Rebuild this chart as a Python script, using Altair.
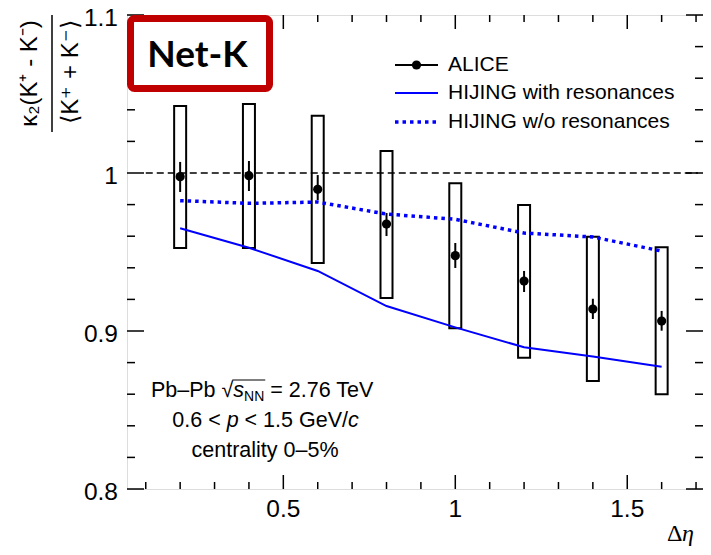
import altair as alt
import pandas as pd

# ---------------- data ----------------
deta = [0.2, 0.4, 0.6, 0.8, 1.0, 1.2, 1.4, 1.6]
alice = [0.9977, 0.9983, 0.9897, 0.9677, 0.9477, 0.9316, 0.9139, 0.9063]
stat_lo = [0.9880, 0.9886, 0.9829, 0.9601, 0.9399, 0.9247, 0.9076, 0.9002]
stat_hi = [1.0070, 1.0076, 0.9987, 0.9747, 0.9557, 0.9380, 0.9204, 0.9127]
sys_lo = [0.9525, 0.9525, 0.9430, 0.9209, 0.9017, 0.8831, 0.8684, 0.8600]
sys_hi = [1.0424, 1.0437, 1.0363, 1.0139, 0.9935, 0.9797, 0.9597, 0.9530]
hijing_res = [0.9650, 0.9527, 0.9380, 0.9158, 0.9023, 0.8897, 0.8838, 0.8774]
hijing_nores = [0.9825, 0.9808, 0.9816, 0.9740, 0.9707, 0.9620, 0.9595, 0.9506]

x_domain = [0.06, 1.7057]
y_domain = [0.8, 1.1]
x_major = [0.5, 1.0, 1.5]
x_major_labels = ["0.5", "1", "1.5"]
x_minor = [0.1, 0.2, 0.3, 0.4, 0.6, 0.7, 0.8, 0.9, 1.1, 1.2, 1.3, 1.4, 1.6, 1.7]
y_major = [0.8, 0.9, 1.0, 1.1]
y_major_labels = ["0.8", "0.9", "1", "1.1"]
y_minor = [0.82, 0.84, 0.86, 0.88, 0.92, 0.94, 0.96, 0.98, 1.02, 1.04, 1.06, 1.08]
ref_line = {"x": [0.1], "x2": [1.7057], "y": [1.0]}

legend_labels = ["ALICE", "HIJING with resonances", "HIJING w/o resonances"]
badge_text = "Net-K"
y_title_num = "κ₂(K⁺ - K⁻)"
y_title_den = "⟨K⁺ + K⁻⟩"

# ---------------- styling ----------------
W, H = 576, 474
BLUE = "#0000ff"
RED = "#c00000"
FONT = "Liberation Sans"

df = pd.DataFrame({
    "deta": deta, "alice": alice, "stat_lo": stat_lo, "stat_hi": stat_hi,
    "sys_lo": sys_lo, "sys_hi": sys_hi,
    "hres": hijing_res, "hnores": hijing_nores,
})
dummy = pd.DataFrame({"a": [0]})

xs = alt.Scale(domain=x_domain, nice=False, zero=False)
ys = alt.Scale(domain=y_domain, nice=False, zero=False)


def X(f):
    return alt.X(f, scale=xs, axis=None)


def Y(f):
    return alt.Y(f, scale=ys, axis=None)


layers = []

# systematic boxes
layers.append(alt.Chart(df).mark_bar(width=12, filled=False, stroke="black", strokeWidth=2).encode(
    x=X("deta:Q"), y=Y("sys_lo:Q"), y2="sys_hi:Q"))

# reference dashed line at 1
layers.append(alt.Chart(pd.DataFrame(ref_line)).mark_rule(
    color="black", strokeWidth=1.6, strokeDash=[7, 4]).encode(
    x=X("x:Q"), x2="x2:Q", y=Y("y:Q")))

# HIJING curves
layers.append(alt.Chart(df).mark_line(color=BLUE, strokeWidth=2).encode(
    x=X("deta:Q"), y=Y("hres:Q")))
layers.append(alt.Chart(df).mark_line(color=BLUE, strokeWidth=3.5, strokeDash=[3.5, 4]).encode(
    x=X("deta:Q"), y=Y("hnores:Q")))

# statistical errors + points
layers.append(alt.Chart(df).mark_rule(color="black", strokeWidth=2).encode(
    x=X("deta:Q"), y=Y("stat_lo:Q"), y2="stat_hi:Q"))
layers.append(alt.Chart(df).mark_circle(color="black", size=85, opacity=1).encode(
    x=X("deta:Q"), y=Y("alice:Q")))


# ROOT-style inward ticks on all four sides
def yticks(vals, x0, x1):
    return alt.Chart(pd.DataFrame({"v": vals})).mark_rule(color="black", strokeWidth=1.5).encode(
        y=Y("v:Q"), x=alt.value(x0), x2=alt.value(x1))


def xticks(vals, y0, y1):
    return alt.Chart(pd.DataFrame({"v": vals})).mark_rule(color="black", strokeWidth=1.5).encode(
        x=X("v:Q"), y=alt.value(y0), y2=alt.value(y1))


layers += [
    yticks(y_major, 0, 17), yticks(y_minor, 0, 8),
    yticks(y_major, W, W - 17), yticks(y_minor, W, W - 8),
    xticks(x_major, H, H - 14), xticks(x_minor, H, H - 7),
    xticks(x_major, 0, 14), xticks(x_minor, 0, 7),
]

# tick labels (through the scales)
layers.append(alt.Chart(pd.DataFrame({"v": y_major, "lab": y_major_labels})).mark_text(
    font=FONT, fontSize=24.5, align="right", baseline="middle", dy=3.5, color="black").encode(
    y=Y("v:Q"), x=alt.value(-9), text="lab:N"))
layers.append(alt.Chart(pd.DataFrame({"v": x_major, "lab": x_major_labels})).mark_text(
    font=FONT, fontSize=24.5, align="center", baseline="top", color="black").encode(
    x=X("v:Q"), y=alt.value(H + 9), text="lab:N"))

# Net-K badge
layers.append(alt.Chart(dummy).mark_rect(fill="white", stroke=RED, strokeWidth=7, cornerRadius=4).encode(
    x=alt.value(3.5), x2=alt.value(142.5), y=alt.value(3.5), y2=alt.value(73.5)))
layers.append(alt.Chart(dummy).mark_text(text=badge_text, font="Lato", fontWeight="bold", fontSize=37,
                                         align="center", baseline="alphabetic", color="black").encode(
    x=alt.value(70.5), y=alt.value(52)))

# legend
LX0, LX1, LTX = 268, 311, 321
LY = [50, 78, 107]
layers.append(alt.Chart(dummy).mark_rule(color="black", strokeWidth=2).encode(
    x=alt.value(LX0), x2=alt.value(LX1), y=alt.value(LY[0])))
layers.append(alt.Chart(dummy).mark_circle(color="black", size=85, opacity=1).encode(
    x=alt.value((LX0 + LX1) / 2), y=alt.value(LY[0])))
layers.append(alt.Chart(dummy).mark_rule(color=BLUE, strokeWidth=2).encode(
    x=alt.value(LX0), x2=alt.value(LX1), y=alt.value(LY[1])))
layers.append(alt.Chart(dummy).mark_rule(color=BLUE, strokeWidth=3.5, strokeDash=[3.5, 4]).encode(
    x=alt.value(LX0), x2=alt.value(LX1), y=alt.value(LY[2])))
for lab, yy in zip(legend_labels, LY):
    layers.append(alt.Chart(dummy).mark_text(text=lab, font=FONT, fontSize=21, align="left",
                                             baseline="middle", color="black").encode(
        x=alt.value(LTX), y=alt.value(yy)))

# info text, composed of pieces (italic / subscript)
AW = {'P': 667, 'b': 556, '–': 556, ' ': 278, '√': 549, 's': 500, 'N': 722, '=': 584, '2': 556,
      '.': 278, '7': 556, '6': 556, 'T': 611, 'e': 556, 'V': 667, '0': 556, '<': 584, 'p': 556,
      '1': 556, '5': 556, 'G': 778, '/': 278, 'c': 500, 'n': 556, 't': 278, 'r': 333, 'a': 556,
      'l': 222, 'i': 222, 'y': 500, '%': 889}


def tw(s, size):
    return sum(AW.get(ch, 556) for ch in s) / 1000.0 * size


F = 21.5
FS = F * 0.65


def line_pieces(pieces, cx, base):
    total = sum(tw(t, sz) for t, sz, st, dy in pieces)
    x = cx - total / 2
    out = []
    for t, sz, st, dy in pieces:
        lead = len(t) - len(t.lstrip(" "))
        out.append(alt.Chart(dummy).mark_text(text=t.strip(" "), font=FONT, fontSize=sz, fontStyle=st,
                                              align="left", baseline="alphabetic", color="black").encode(
            x=alt.value(x + tw(" " * lead, sz)), y=alt.value(base + dy)))
        x += tw(t, sz)
    return out, cx - total / 2


info1 = [("Pb–Pb", F, "normal", 0), (" √", F, "normal", 0), ("s", F, "italic", 0),
         ("NN", FS, "normal", 4), (" = 2.76 TeV", F, "normal", 0)]
info2 = [("0.6 <", F, "normal", 0), (" p", F, "italic", 0), (" < 1.5 GeV/", F, "normal", 0),
         ("c", F, "italic", 0)]
info3 = [("centrality 0–5%", F, "normal", 0)]

p1, s1 = line_pieces(info1, 136.5, 382)
p2, _ = line_pieces(info2, 138.5, 412)
p3, _ = line_pieces(info3, 138, 441.5)
layers += p1 + p2 + p3
# overline of the square root
ov0 = s1 + tw("Pb–Pb √", F) - 1
ov1 = ov0 + 1 + tw("s", F) + tw("NN", FS) + 1
layers.append(alt.Chart(dummy).mark_rule(color="black", strokeWidth=1.2).encode(
    x=alt.value(ov0), x2=alt.value(ov1), y=alt.value(382 - 17)))

# y-axis title as a fraction
layers.append(alt.Chart(dummy).mark_text(text=y_title_num, font=FONT, fontSize=24, angle=270,
                                         align="center", baseline="middle", color="black").encode(
    x=alt.value(-97), y=alt.value(58.5)))
layers.append(alt.Chart(dummy).mark_rule(color="black", strokeWidth=1.5).encode(
    x=alt.value(-75), y=alt.value(0), y2=alt.value(117)))
layers.append(alt.Chart(dummy).mark_text(text=y_title_den, font=FONT, fontSize=24, angle=270,
                                         align="center", baseline="middle", color="black").encode(
    x=alt.value(-56), y=alt.value(57)))

# x-axis title at the lower right
layers.append(alt.Chart(dummy).mark_text(text="Δ", font="Liberation Serif", fontSize=24, align="left",
                                         baseline="alphabetic", color="black").encode(
    x=alt.value(540), y=alt.value(526)))
layers.append(alt.Chart(dummy).mark_text(text="η", font="Liberation Serif", fontSize=24, fontStyle="italic",
                                         align="left", baseline="alphabetic", color="black").encode(
    x=alt.value(555), y=alt.value(526)))

chart = alt.layer(*layers).properties(
    width=W, height=H,
    autosize=alt.AutoSizeParams(type="none"),
    padding={"left": 119, "top": 7, "right": 0, "bottom": 58},
).configure_view(stroke="black", strokeWidth=2).configure(background="white")

chart.save("out.html", embed_options={"renderer": "svg", "actions": False})
